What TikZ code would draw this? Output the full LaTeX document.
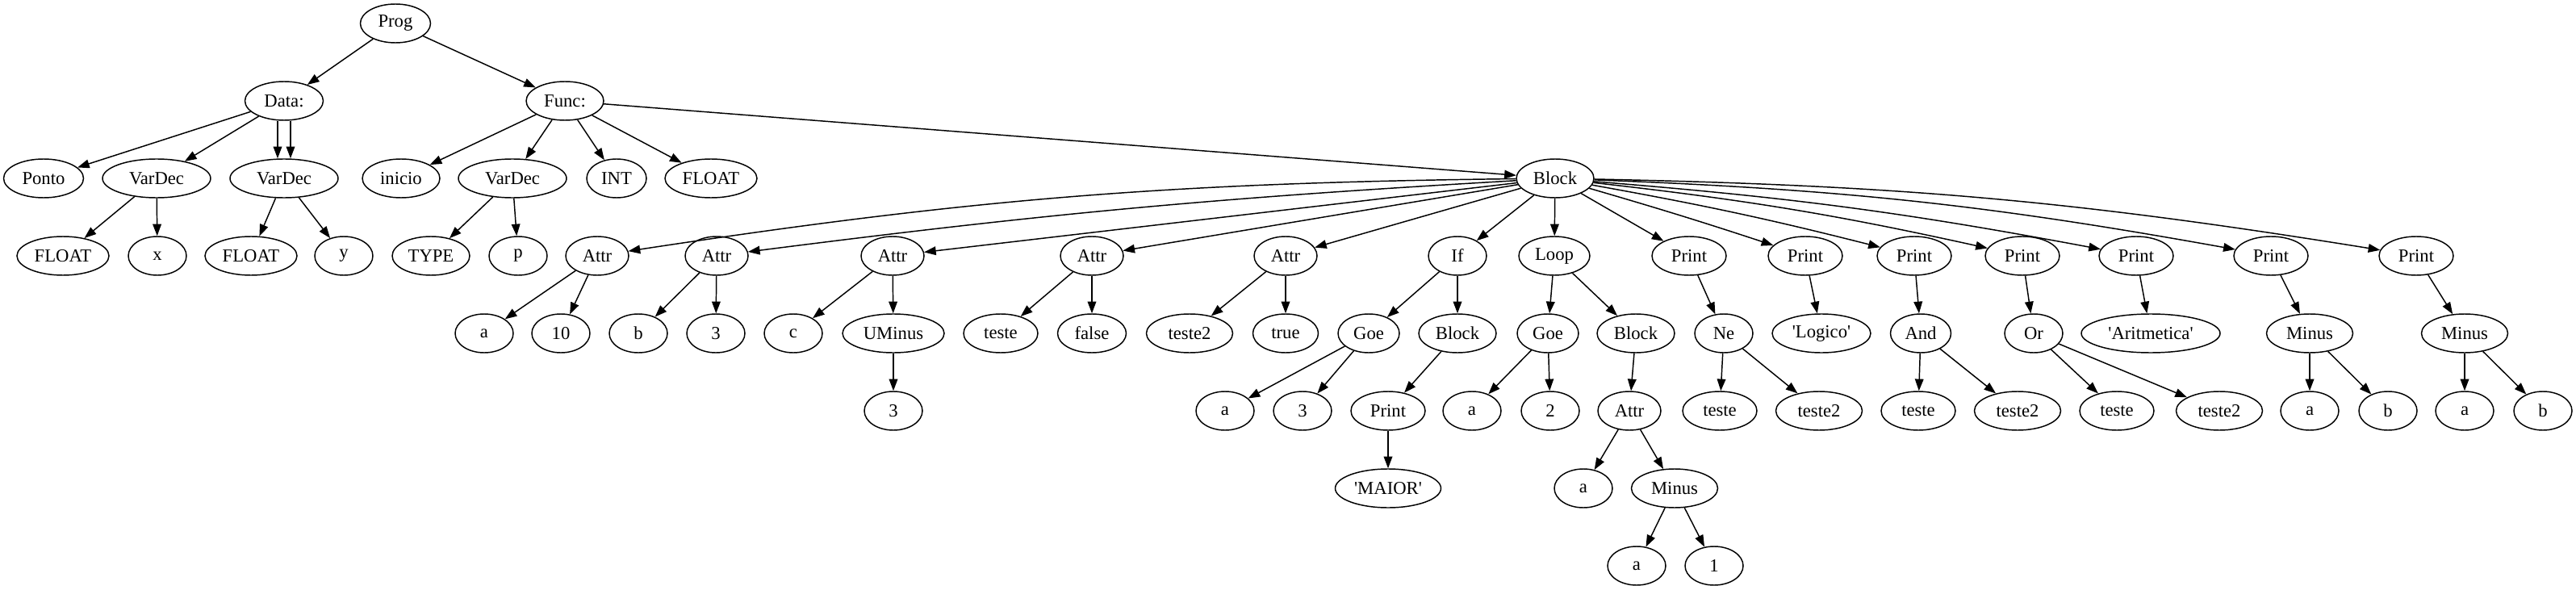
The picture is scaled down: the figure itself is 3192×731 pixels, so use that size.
\documentclass[tikz,border=0pt]{standalone}
\usepackage{fontspec}
\setmainfont{Liberation Serif}
\usepackage{tikz}
\usetikzlibrary{shapes.geometric, arrows.meta}
\newcommand{\sq}{\textquotesingle}
\tikzset{
	astnode/.style={ellipse, draw=black, line width=1.1pt, inner sep=0pt, minimum width=54pt, minimum height=36pt, font=\fontsize{17}{20}\selectfont},
	edgearrow/.style={-{Triangle[length=11pt, width=8pt]}, line width=1.1pt},
}

\begin{document}
\begin{tikzpicture}[x=0.75pt, y=-0.75pt]
	\useasboundingbox (0,0) rectangle (3192,731);
	% tree nodes: name / x / y / width / label
	\foreach \nm/\px/\py/\w/\txt in {
		prog/490/29/87/Prog, data/352/125/97/Data:, func/700/125/96/Func:,
		ponto/54/221/99/Ponto, vdA/194/221/134/VarDec, vdB/352/221/134/VarDec,
		inicio/497/221/96/inicio, vdC/635/221/134/VarDec, intT/764/221/74/INT,
		floatT/881/221/114/FLOAT, block/1927/221/96/Block,
		floatA/78/317/114/FLOAT, xA/195/317/72/x, floatB/311/317/114/FLOAT,
		yB/426/317/72/y, typeC/534/317/96/TYPE, pC/642/317/72/p,
		attr1/740/317/78/Attr, attr2/888/317/78/Attr, attr3/1106/317/78/Attr,
		attr4/1353/317/78/Attr, attr5/1593/317/78/Attr, ifN/1806/317/72/If,
		loop/1926/317/88/Loop, print1/2093/317/92/Print, print2/2237/317/92/Print,
		print3/2372/317/92/Print, print4/2506/317/92/Print, print5/2647/317/92/Print,
		print6/2814/317/92/Print, print7/2994/317/92/Print,
		aOne/600/413/72/a, tenOne/695/413/72/10, bTwo/791/413/72/b,
		threeTwo/887/413/72/3, cThree/983/413/72/c, uminus/1107/413/126/UMinus,
		testeFour/1240/413/92/teste, falseFour/1353/413/85/false,
		testeFive/1474/413/107/teste2, trueFive/1593/413/81/true,
		goeIf/1696/413/76/Goe, blockIf/1806/413/96/Block,
		goeLoop/1918/413/76/Goe, blockLoop/2027/413/96/Block,
		ne/2136/413/72/Ne, logico/2257/413/122/\sq Logico\sq, andN/2380/413/75/And,
		orN/2520/413/72/Or, arit/2665/413/172/\sq Aritmetica\sq,
		minusSix/2862/413/107/Minus, minusSeven/3054/413/107/Minus,
		threeUm/1107/509/72/3, aGoe/1518/509/72/a, threeGoe/1614/509/72/3,
		printIf/1720/509/92/Print, aLoop/1824/509/72/a, twoLoop/1921/509/72/2,
		attrLoop/2019/509/78/Attr, testeNe/2131/509/92/teste,
		testeNeB/2254/509/107/teste2, testeAnd/2377/509/92/teste,
		testeAndB/2500/509/107/teste2, testeOr/2623/509/92/teste,
		testeOrB/2750/509/107/teste2, aSix/2862/509/72/a, bSix/2959/509/72/b,
		aSeven/3054/509/72/a, bSeven/3151/509/72/b,
		maior/1720/605/131/\sq MAIOR\sq, aAttr/1962/605/72/a, minusAttr/2075/605/107/Minus,
		aMinus/2028/701/72/a, oneMinus/2124/701/72/1} {
		\node[astnode, minimum width=\w*0.75pt] (\nm) at (\px,\py) {\txt};
	}
	% straight edges
	\foreach \from/\to in {
		prog/data, prog/func, data/ponto, data/vdA, vdA/floatA, vdA/xA,
		vdB/floatB, vdB/yB, func/inicio, func/vdC, func/intT, func/floatT,
		func/block, vdC/typeC, vdC/pC, block/attr3, block/attr4, block/attr5,
		block/ifN, block/loop, block/print1,
		attr1/aOne, attr1/tenOne, attr2/bTwo, attr2/threeTwo, attr3/cThree,
		attr3/uminus, uminus/threeUm, attr4/testeFour, attr4/falseFour,
		attr5/testeFive, attr5/trueFive, ifN/goeIf, ifN/blockIf,
		goeIf/aGoe, goeIf/threeGoe, blockIf/printIf, printIf/maior,
		loop/goeLoop, loop/blockLoop, goeLoop/aLoop, goeLoop/twoLoop,
		blockLoop/attrLoop, attrLoop/aAttr, attrLoop/minusAttr,
		minusAttr/aMinus, minusAttr/oneMinus,
		print1/ne, ne/testeNe, ne/testeNeB, print2/logico, print3/andN,
		andN/testeAnd, andN/testeAndB, print4/orN, orN/testeOr, orN/testeOrB,
		print5/arit, print6/minusSix, minusSix/aSix, minusSix/bSix,
		print7/minusSeven, minusSeven/aSeven, minusSeven/bSeven} {
		\draw[edgearrow] (\from) -- (\to);
	}
	% the two parallel edges Data: -> VarDec
	\draw[edgearrow] ([xshift=-6pt]data.south) -- ([xshift=-6pt]vdB.north);
	\draw[edgearrow] ([xshift=6pt]data.south) -- ([xshift=6pt]vdB.north);
	% long curved edges out of Block
	\draw[edgearrow] (block) to[bend right=4] (attr1);
	\draw[edgearrow] (block) to[bend right=2] (attr2);
	\foreach \to/\b in {print2/1, print3/2, print4/3, print5/3, print6/4, print7/4} {
		\draw[edgearrow] (block) to[bend left=\b] (\to);
	}
\end{tikzpicture}
\end{document}
